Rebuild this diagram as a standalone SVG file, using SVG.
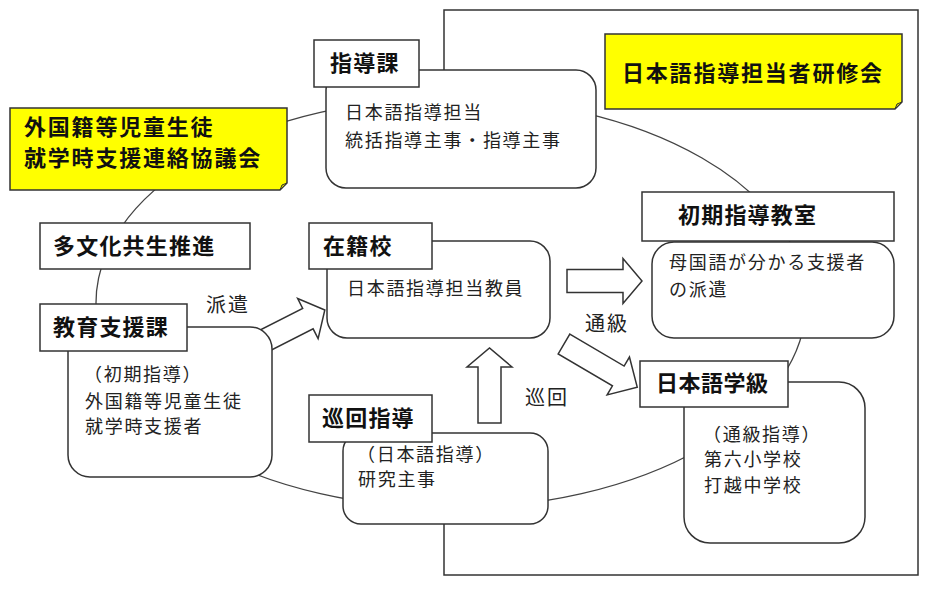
<svg xmlns="http://www.w3.org/2000/svg" xmlns:xlink="http://www.w3.org/1999/xlink" width="930" height="590" viewBox="0 0 930 590">
<defs>
<style>
.box{fill:#fff;stroke:#333;stroke-width:1.5}
.note{fill:#ffff00;stroke:#333;stroke-width:1.5}
.fold{fill:#d6d600;stroke:#333;stroke-width:1}
.lbl{font-family:"Noto Sans CJK JP",sans-serif;font-weight:bold;font-size:22px;letter-spacing:1.2px;fill:#111}
.ntx{font-family:"Noto Sans CJK JP",sans-serif;font-weight:bold;font-size:22px;letter-spacing:1.8px;fill:#111}
.txt{font-family:"Noto Sans CJK JP",sans-serif;font-size:18px;letter-spacing:1.7px;fill:#222}
.elb{font-family:"Noto Sans CJK JP",sans-serif;font-size:20px;letter-spacing:2px;fill:#222}
.link{fill:#fff;stroke:#444;stroke-width:1.3}
.arrow{fill:#fff;stroke:#333;stroke-width:1.5;stroke-linejoin:miter}
</style>
<polygon id="blk" points="0,-11.5 56,-11.5 56,-22.5 75,0 56,22.5 56,11.5 0,11.5"/>
<polygon id="blkL" points="0,-11.5 63,-11.5 63,-22 85,0 63,22 63,11.5 0,11.5"/>
</defs>
<rect width="930" height="590" fill="#fff"/>
<g id="frame">
<rect x="444" y="10" width="474" height="565" fill="#fff" stroke="#333" stroke-width="1.5"/>
</g>
<g id="connectors">
<ellipse class="link" cx="451" cy="303" rx="355" ry="205"/>
<use xlink:href="#blk" class="arrow" transform="translate(567,281)"/>
<use xlink:href="#blk" class="arrow" transform="translate(489.5,423) rotate(-90)"/>
<use xlink:href="#blk" class="arrow" transform="translate(258,344) rotate(-27)"/>
<use xlink:href="#blkL" class="arrow" transform="translate(564,344) rotate(30.5)"/>
<text class="elb" x="206" y="312">派遣</text>
<text class="elb" x="585" y="331">通級</text>
<text class="elb" x="525" y="405">巡回</text>
</g>
<g id="kyogikai">
<path class="note" d="M10,108 H287 V183 L280,190 H10 Z"/>
<path class="fold" d="M280,190 L282,185 L287,183 Z"/>
<text class="ntx" x="24" y="135">外国籍等児童生徒</text>
<text class="ntx" x="24" y="166">就学時支援連絡協議会</text>
</g>
<g id="kenshukai">
<path class="note" d="M605,34 H902 V102 L895,109 H605 Z"/>
<path class="fold" d="M895,109 L897,104 L902,102 Z"/>
<text class="ntx" x="622" y="81">日本語指導担当者研修会</text>
</g>
<g id="shidoka">
<rect class="box" x="326" y="70" width="270" height="118" rx="20"/>
<rect class="box" x="314" y="40" width="105" height="47"/>
<text class="lbl" x="330" y="71">指導課</text>
<text class="txt" x="345" y="119">日本語指導担当</text>
<text class="txt" x="345" y="147">統括指導主事・指導主事</text>
</g>
<g id="tabunka">
<rect class="box" x="40" y="223" width="210" height="46"/>
<text class="lbl" x="53" y="254">多文化共生推進</text>
</g>
<g id="zaisekiko">
<rect class="box" x="327" y="241" width="223" height="97" rx="20"/>
<rect class="box" x="309" y="223" width="123" height="46"/>
<text class="lbl" x="323" y="254">在籍校</text>
<text class="txt" x="347" y="295">日本語指導担当教員</text>
</g>
<g id="kyoikushien">
<rect class="box" x="68" y="327" width="204" height="150" rx="22"/>
<rect class="box" x="40" y="304" width="147" height="47"/>
<text class="lbl" x="53" y="335">教育支援課</text>
<text class="txt" x="84" y="381">（初期指導）</text>
<text class="txt" x="85" y="408">外国籍等児童生徒</text>
<text class="txt" x="85" y="433">就学時支援者</text>
</g>
<g id="junkai">
<rect class="box" x="343" y="433" width="205" height="91" rx="18"/>
<rect class="box" x="309" y="395" width="123" height="47"/>
<text class="lbl" x="322" y="426">巡回指導</text>
<text class="txt" x="357" y="461">（日本語指導）</text>
<text class="txt" x="358" y="486">研究主事</text>
</g>
<g id="shoki">
<rect class="box" x="652" y="242" width="242" height="96" rx="22"/>
<rect class="box" x="642" y="192" width="252" height="49"/>
<text class="lbl" x="678" y="223">初期指導教室</text>
<text class="txt" x="669" y="269">母国語が分かる支援者</text>
<text class="txt" x="669" y="296">の派遣</text>
</g>
<g id="nihongo">
<rect class="box" x="684" y="382" width="181" height="161" rx="26"/>
<rect class="box" x="640" y="361" width="148" height="46"/>
<text class="lbl" x="656" y="391" style="letter-spacing:0.5px">日本語学級</text>
<text class="txt" x="703" y="441">（通級指導）</text>
<text class="txt" x="704" y="466">第六小学校</text>
<text class="txt" x="704" y="492">打越中学校</text>
</g>
</svg>
